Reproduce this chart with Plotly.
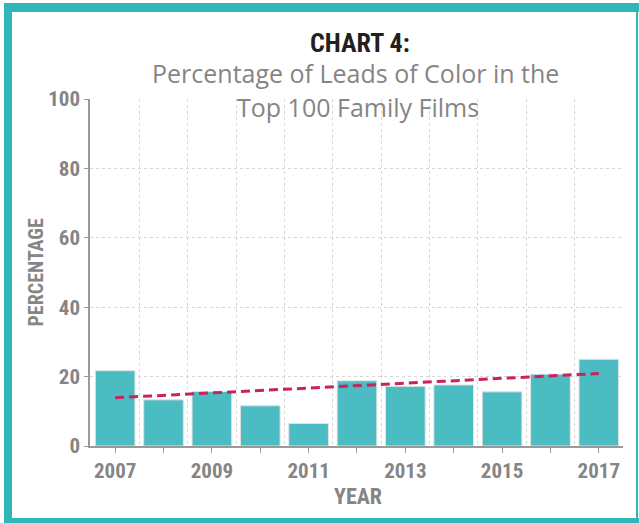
import plotly.graph_objects as go

years = [2007, 2008, 2009, 2010, 2011, 2012, 2013, 2014, 2015, 2016, 2017]
percent = [21.7, 13.3, 15.7, 11.6, 6.5, 18.8, 17.2, 17.6, 15.6, 20.7, 25.0]
trend_years = [2007, 2017]
trend_values = [13.9, 20.9]
tick_labels = ["2007", "", "2009", "", "2011", "", "2013", "", "2015", "", "2017"]
y_ticks = [0, 20, 40, 60, 80, 100]

TEAL = "#4bbcc1"
FRAME = "#2fb6b9"
TREND = "#c8235f"
GRAY = "#858585"
AXIS = "#9a9a9a"
GRID = "#d6d6d6"
COND = "Liberation Sans Narrow, Roboto Condensed, DejaVu Sans Condensed, DejaVu Sans"


def cfont(size, color):
    return dict(family=COND, size=size, color=color, weight="bold")


fig = go.Figure()
fig.add_trace(go.Bar(
    x=years, y=percent, width=0.82,
    marker=dict(color=TEAL, line=dict(color="#e2e2e2", width=1)),
    hoverinfo="skip", showlegend=False,
))
fig.add_trace(go.Scatter(
    x=trend_years, y=trend_values, mode="lines",
    line=dict(color=TREND, width=3, dash="9px,5px"),
    hoverinfo="skip", showlegend=False,
))

W, H = 639, 523
L, R, T, B = 90, 16, 99, 77
pw, ph = W - L - R, H - T - B


def px(x):
    return (x - L) / pw


def py(y):
    return (H - B - y) / ph


shapes = [
    dict(type="rect", xref="paper", yref="paper", x0=px(4), x1=px(12), y0=py(523), y1=py(3),
         fillcolor=FRAME, line=dict(width=0), layer="below"),
    dict(type="rect", xref="paper", yref="paper", x0=px(4), x1=px(639), y0=py(12), y1=py(3),
         fillcolor=FRAME, line=dict(width=0), layer="below"),
    dict(type="rect", xref="paper", yref="paper", x0=px(4), x1=px(639), y0=py(523), y1=py(518),
         fillcolor=FRAME, line=dict(width=0), layer="below"),
    dict(type="rect", xref="paper", yref="paper", x0=px(636), x1=px(638), y0=py(523), y1=py(3),
         fillcolor=FRAME, line=dict(width=0), layer="below"),
]

SUB = dict(family="Open Sans, sans-serif", size=25, color="#858585")

annotations = [
    dict(text="CHART 4:", x=px(360), y=py(43), xref="paper", yref="paper", showarrow=False,
         xanchor="center", yanchor="middle", font=cfont(26, "#231f20")),
    dict(text="Percentage of Leads of Color in the", x=px(355), y=py(73), xref="paper", yref="paper",
         showarrow=False, xanchor="center", yanchor="middle", font=SUB),
    dict(text="Top 100 Family Films", x=px(358), y=py(107), xref="paper", yref="paper",
         showarrow=False, xanchor="center", yanchor="middle", font=SUB),
    dict(text="PERCENTAGE", x=px(35.5), y=py(272), xref="paper", yref="paper", showarrow=False,
         xanchor="center", yanchor="middle", textangle=-90, font=cfont(20, GRAY)),
    dict(text="YEAR", x=px(357.5), y=py(497), xref="paper", yref="paper", showarrow=False,
         xanchor="center", yanchor="middle", font=cfont(22, GRAY)),
]

fig.update_layout(
    width=W, height=H,
    margin=dict(l=L, r=R, t=T, b=B, pad=0),
    paper_bgcolor="white", plot_bgcolor="white",
    shapes=shapes, annotations=annotations,
    xaxis=dict(
        range=[2006.48, 2017.5], tickmode="array", tickvals=years, ticktext=tick_labels,
        ticks="outside", ticklen=5, tickcolor=AXIS, tickwidth=1,
        showline=True, linecolor=AXIS, linewidth=1.5,
        showgrid=False, zeroline=False,
        tickfont=cfont(21, GRAY),
        minor=dict(tickmode="array", tickvals=[y + 0.5 for y in years], showgrid=True,
                   gridcolor=GRID, griddash="dot", gridwidth=1, ticks=""),
        fixedrange=True,
    ),
    yaxis=dict(
        range=[0, 100], tickmode="array", tickvals=y_ticks,
        ticks="outside", ticklen=4, tickcolor=AXIS,
        showline=True, linecolor=AXIS, linewidth=1.5,
        showgrid=True, gridcolor=GRID, griddash="dot", gridwidth=1, zeroline=False,
        tickfont=cfont(21, GRAY),
        fixedrange=True,
    ),
)

fig.write_html(
    "out.html",
    config={"displayModeBar": False},
    post_script="document.body.style.margin='0';document.body.style.overflow='hidden';",
)
